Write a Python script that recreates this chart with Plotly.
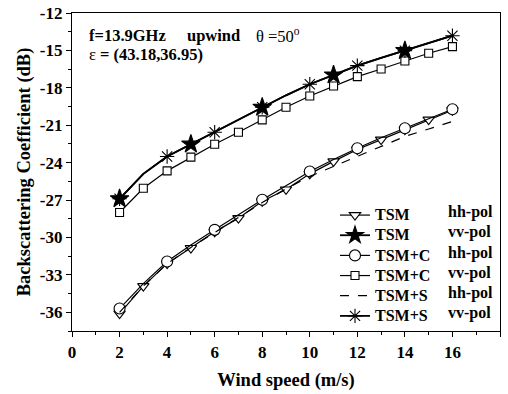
import plotly.graph_objects as go

# ---- data ----
wind = [2, 3, 4, 5, 6, 7, 8, 9, 10, 11, 12, 13, 14, 15, 16]
tsm_hh = [-36.1, -33.9, -32.1, -30.85, -29.55, -28.45, -27.1, -26.15, -24.9, -23.9, -22.95, -22.15, -21.35, -20.55, -19.8]
tsm_vv = [-26.9, -24.9, -23.5, -22.52, -21.56, -20.55, -19.56, -18.6, -17.71, -16.97, -16.22, -15.6, -15.02, -14.4, -13.82]
tsmc_hh = [-35.7, -33.7, -31.93, -30.6, -29.39, -28.15, -26.98, -25.85, -24.71, -23.75, -22.84, -22.0, -21.24, -20.45, -19.72]
tsmc_vv = [-28.0, -26.05, -24.66, -23.56, -22.52, -21.56, -20.57, -19.56, -18.65, -17.85, -17.1, -16.49, -15.85, -15.23, -14.7]
tsms_hh = [-36.0, -33.9, -32.1, -30.8, -29.6, -28.4, -27.2, -26.1, -25.1, -24.3, -23.5, -22.7, -21.9, -21.3, -20.7]
tsms_vv = [-26.9, -24.9, -23.51, -22.52, -21.56, -20.55, -19.56, -18.6, -17.71, -16.97, -16.22, -15.6, -15.02, -14.4, -13.82]

# wind speeds at which each series shows its marker
tsm_hh_mk = wind
tsm_vv_mk = [2, 5, 8, 11, 14]
tsmc_hh_mk = [2, 4, 6, 8, 10, 12, 14, 16]
tsmc_vv_mk = wind
tsms_vv_mk = [2, 4, 6, 8, 10, 12, 14, 16]

legend_methods = ["TSM", "TSM", "TSM+C", "TSM+C", "TSM+S", "TSM+S"]
legend_pols = ["hh-pol", "vv-pol", "hh-pol", "vv-pol", "hh-pol", "vv-pol"]

x_ticks = [0, 2, 4, 6, 8, 10, 12, 14, 16, 18]
y_ticks = [-36, -33, -30, -27, -24, -21, -18, -15, -12]
y_ticktext = ["-36", "-33", "-30", "-27", "-24", "-21", "-18", "-15", "-12"]

FONT = "Liberation Serif"
BLACK = "#000000"

fig = go.Figure()

def subset(xs, ys, keep):
    return [x for x in xs if x in keep], [y for x, y in zip(xs, ys) if x in keep]

# (values, marker x, symbol, size, fill, line width, dash)
series = [
    (tsm_hh, tsm_hh_mk, "triangle-down", 10, "white", 1.2, "solid"),
    (tsmc_hh, tsmc_hh_mk, "circle", 11, "white", 1.2, "solid"),
    (tsms_hh, None, None, 0, None, 1.2, "dash"),
    (tsmc_vv, tsmc_vv_mk, "square", 8, "white", 1.2, "solid"),
    (tsms_vv, tsms_vv_mk, "asterisk-open", 12, BLACK, 1.8, "solid"),
    (tsm_vv, tsm_vv_mk, "star", 14, BLACK, 1.8, "solid"),
]

for vals, mk, sym, sz, fill, lw, dash in series:
    fig.add_trace(go.Scatter(x=wind, y=vals, mode="lines", showlegend=False,
                             line=dict(color=BLACK, width=lw, dash=dash)))
    if mk is not None:
        mx, my = subset(wind, vals, mk)
        fig.add_trace(go.Scatter(x=mx, y=my, mode="markers", showlegend=False,
                                 marker=dict(symbol=sym, size=sz, color=fill,
                                             line=dict(color=BLACK, width=1.1))))

# legend entries (order as in reference)
leg_style = [
    ("triangle-down", 10, "white", 1.2, "solid"),
    ("star", 13, BLACK, 1.8, "solid"),
    ("circle", 11, "white", 1.2, "solid"),
    ("square", 8, "white", 1.2, "solid"),
    (None, 0, None, 1.2, "dash"),
    ("asterisk-open", 12, BLACK, 1.8, "solid"),
]
for name, (sym, sz, fill, lw, dash) in zip(legend_methods, leg_style):
    label = "<span style='font-size:16px'>%s</span>" % name
    if sym is None:
        fig.add_trace(go.Scatter(x=[None], y=[None], mode="lines", name=label,
                                 line=dict(color=BLACK, width=lw, dash=dash)))
    else:
        fig.add_trace(go.Scatter(x=[None], y=[None], mode="lines+markers", name=label,
                                 line=dict(color=BLACK, width=lw, dash=dash),
                                 marker=dict(symbol=sym, size=sz, color=fill,
                                             line=dict(color=BLACK, width=1.1))))

# plot area in px: left 72, right 500, top 13, bottom 331
W, H = 508, 394
L, R, T, B = 72, 500, 13, 331

def px2paper(px, py):
    return (px - L) / (R - L), (B - py) / (B - T)

annotations = []
row_y = [212, 232, 252.5, 273, 293, 313]
for pol, ry in zip(legend_pols, row_y):
    ax, ay = px2paper(446, ry)
    annotations.append(dict(x=ax, y=ay, xref="paper", yref="paper", text="<b>%s</b>" % pol,
                            showarrow=False, xanchor="left", yanchor="middle",
                            font=dict(family=FONT, size=16, color=BLACK)))

for txt, px, py in [("<b>f=13.9GHz</b>", 87, 35), ("<b>upwind</b>", 185, 35),
                    ("θ =50<sup>o</sup>", 254, 35), ("ε<b> = (43.18,36.95)</b>", 87, 55)]:
    ax, ay = px2paper(px, py)
    annotations.append(dict(x=ax, y=ay, xref="paper", yref="paper", text=txt,
                            showarrow=False, xanchor="left", yanchor="middle",
                            font=dict(family=FONT, size=16.5, color=BLACK)))

lx, ly = px2paper(335, 200)

axis_common = dict(showgrid=False, zeroline=False, showline=True, linecolor=BLACK,
                   linewidth=1.2, mirror=True, ticks="outside", ticklen=5, tickwidth=1.2,
                   tickcolor=BLACK,
                   tickfont=dict(family=FONT, size=17, color=BLACK, weight="bold"))

fig.update_layout(
    width=W, height=H,
    margin=dict(l=L, r=W - R, t=T, b=H - B, autoexpand=False),
    paper_bgcolor="white", plot_bgcolor="white",
    showlegend=True,
    legend=dict(x=lx, y=ly, xanchor="left", yanchor="top", bgcolor="rgba(0,0,0,0)",
                borderwidth=0, font=dict(family=FONT, size=13.2, color=BLACK, weight="bold"),
                tracegroupgap=0),
    annotations=annotations,
    xaxis=dict(range=[0, 18], tickvals=x_ticks,
               minor=dict(dtick=1, ticks="outside", ticklen=3, tickcolor=BLACK, tickwidth=1.2),
               title=dict(text="Wind speed (m/s)", standoff=12,
                          font=dict(family=FONT, size=18.5, color=BLACK, weight="bold")),
               **axis_common),
    yaxis=dict(range=[-37.5, -12], tickvals=y_ticks, ticktext=y_ticktext,
               minor=dict(dtick=1.5, tick0=-12, ticks="outside", ticklen=3, tickcolor=BLACK, tickwidth=1.2),
               title=dict(text="Backscattering Coefficient (dB)", standoff=4,
                          font=dict(family=FONT, size=18.5, color=BLACK, weight="bold")),
               **axis_common),
)

fig.write_html("out.html")
